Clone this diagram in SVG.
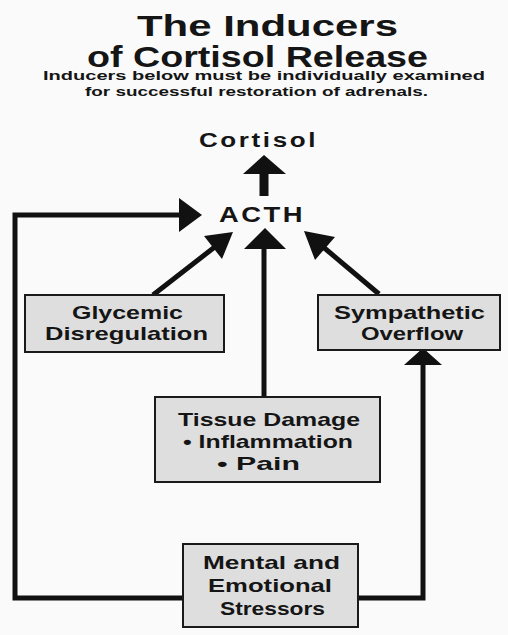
<svg xmlns="http://www.w3.org/2000/svg" width="508" height="635" viewBox="0 0 508 635">
<style>
text{font-family:"Liberation Sans",Arial,sans-serif;font-weight:700;fill:#151515;text-anchor:middle}
.t{font-size:30px}
.s{font-size:12.5px}
.n{font-size:19px}
.k{font-size:20px;letter-spacing:2px}
.box{fill:#dedede;stroke:#1a1a1a;stroke-width:2}
.ln{fill:none;stroke:#111;stroke-width:5;stroke-linejoin:miter}
.ah{fill:#111}
</style>
<rect width="508" height="635" fill="#fafafa"/>
<g id="title">
<text class="t" x="267.5" y="36" textLength="261" lengthAdjust="spacingAndGlyphs">The Inducers</text>
<text class="t" x="257.5" y="67" textLength="341" lengthAdjust="spacingAndGlyphs">of Cortisol Release</text>
<text class="s" x="264" y="80" textLength="442" lengthAdjust="spacingAndGlyphs">Inducers below must be individually examined</text>
<text class="s" x="256.5" y="96" textLength="343" lengthAdjust="spacingAndGlyphs">for successful restoration of adrenals.</text>
</g>
<g id="connectors">
<line class="ln" x1="264" y1="172" x2="264" y2="196" style="stroke-width:9"/>
<polygon class="ah" points="264,155 286,174 243,174"/>
<polyline class="ln" points="183,598 15,598 15,215 182,215"/>
<polygon class="ah" points="202,215 179,198 179,232"/>
<line class="ln" x1="153" y1="295" x2="216" y2="246"/>
<polygon class="ah" points="233,232 222,259 204,236"/>
<line class="ln" x1="264" y1="246" x2="264" y2="397"/>
<polygon class="ah" points="265,228 286,249 244,249"/>
<line class="ln" x1="379" y1="294" x2="322" y2="246"/>
<polygon class="ah" points="304,231 335,237 315,260"/>
<polyline class="ln" points="358,598 423,598 423,362"/>
<polygon class="ah" points="423,348 442,365 404,365"/>
</g>
<g id="cortisol"><text class="k" x="258.5" y="147" textLength="119" lengthAdjust="spacingAndGlyphs">Cortisol</text></g>
<g id="acth"><text class="k" x="262" y="222" textLength="86" lengthAdjust="spacingAndGlyphs" style="font-size:22px">ACTH</text></g>
<g id="glycemic">
<rect class="box" x="25" y="295" width="199" height="57"/>
<text class="n" x="127.5" y="319" textLength="111" lengthAdjust="spacingAndGlyphs">Glycemic</text>
<text class="n" x="126.5" y="340" textLength="163" lengthAdjust="spacingAndGlyphs">Disregulation</text>
</g>
<g id="sympathetic">
<rect class="box" x="318" y="295" width="182" height="55"/>
<text class="n" x="409.5" y="319" textLength="151" lengthAdjust="spacingAndGlyphs">Sympathetic</text>
<text class="n" x="412" y="340" textLength="102" lengthAdjust="spacingAndGlyphs">Overflow</text>
</g>
<g id="tissue">
<rect class="box" x="155" y="397" width="225" height="85"/>
<text class="n" x="269" y="426" textLength="182" lengthAdjust="spacingAndGlyphs">Tissue Damage</text>
<text class="n" x="268" y="448" textLength="170" lengthAdjust="spacingAndGlyphs">• Inflammation</text>
<text class="n" x="258.5" y="470" textLength="83" lengthAdjust="spacingAndGlyphs">• Pain</text>
</g>
<g id="mental">
<rect class="box" x="183" y="544" width="175" height="83"/>
<text class="n" x="271.5" y="569" textLength="137" lengthAdjust="spacingAndGlyphs">Mental and</text>
<text class="n" x="270" y="592" textLength="124" lengthAdjust="spacingAndGlyphs">Emotional</text>
<text class="n" x="272.5" y="615" textLength="105" lengthAdjust="spacingAndGlyphs">Stressors</text>
</g>
</svg>
